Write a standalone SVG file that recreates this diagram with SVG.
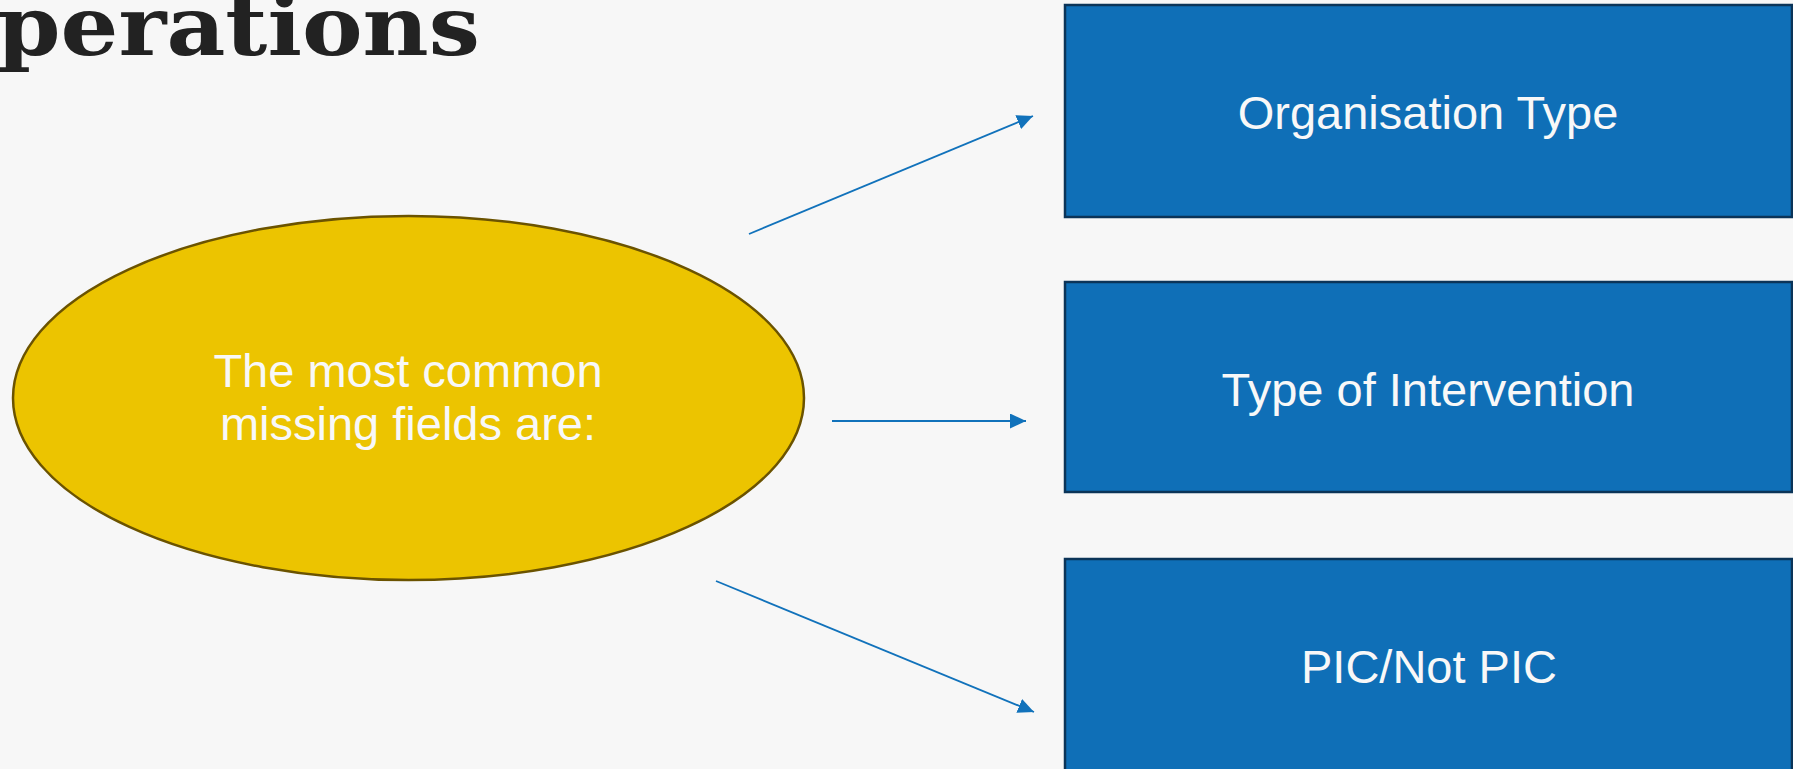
<svg xmlns="http://www.w3.org/2000/svg" width="1793" height="769" viewBox="0 0 1793 769">
  <defs>
    <style>
      .box { fill: #0f6fb7; stroke: #0b3458; stroke-width: 2.5; }
      .boxtext { fill: #f8f8f8; font-family: "Liberation Sans", Arial, sans-serif; font-size: 47px; text-anchor: middle; }
      .ell { fill: #ecc400; stroke: #6b5300; stroke-width: 2.5; }
      .conn { stroke: #1172bb; stroke-width: 1.8; fill: none; marker-end: url(#arrow); }
      .title { fill: #222222; font-family: "DejaVu Serif", "Liberation Serif", serif; font-weight: bold; font-size: 82px; }
    </style>
    <marker id="arrow" markerUnits="userSpaceOnUse" markerWidth="16" markerHeight="15" refX="16" refY="7.5" orient="auto">
      <path d="M0,0 L16,7.5 L0,15 Z" fill="#1172bb"/>
    </marker>
  </defs>
  <rect x="0" y="0" width="1793" height="769" fill="#f7f7f7"/>
  <text class="title" x="-3" y="55" textLength="483" lengthAdjust="spacingAndGlyphs">perations</text>

  <g id="node-center">
    <ellipse class="ell" cx="408.5" cy="398" rx="395.5" ry="182"/>
    <text class="boxtext" x="408" y="387">The most common</text>
    <text class="boxtext" x="408" y="440">missing fields are:</text>
  </g>

  <g id="node-org-type">
    <rect class="box" x="1065" y="5" width="727" height="212"/>
    <text class="boxtext" x="1428" y="129">Organisation Type</text>
  </g>

  <g id="node-intervention">
    <rect class="box" x="1065" y="282" width="727" height="210"/>
    <text class="boxtext" x="1428" y="406">Type of Intervention</text>
  </g>

  <g id="node-pic">
    <rect class="box" x="1065" y="559" width="727" height="230"/>
    <text class="boxtext" x="1429" y="683">PIC/Not PIC</text>
  </g>

  <g id="connectors">
    <line class="conn" x1="749" y1="234" x2="1033" y2="116"/>
    <line class="conn" x1="832" y1="421" x2="1026" y2="421"/>
    <line class="conn" x1="716" y1="581" x2="1034" y2="712"/>
  </g>
</svg>
